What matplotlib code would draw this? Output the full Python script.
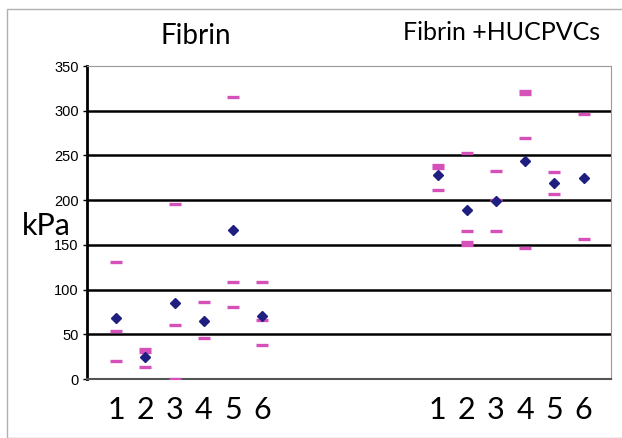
import matplotlib

matplotlib.use("Agg")
import matplotlib.pyplot as plt
from matplotlib.patches import Rectangle

# sample positions on the shared x axis (two groups of six)
fibrin_x = [1, 2, 3, 4, 5, 6]
hucpvc_x = [12, 13, 14, 15, 16, 17]
tick_labels = ["1", "2", "3", "4", "5", "6"]

# mean stiffness per sample (blue diamonds), kPa
fibrin_mean = [68, 25, 85, 65, 167, 70]
hucpvc_mean = [228, 189, 199, 244, 219, 225]

# individual measurements (pink dashes), kPa
fibrin_pts = [
    [131, 54, 20],
    [33, 30, 13],
    [196, 60, 0],
    [86, 46],
    [315, 109, 80],
    [109, 66, 38],
]
hucpvc_pts = [
    [239, 236, 211],
    [253, 165, 153, 150],
    [233, 200, 166],
    [322, 319, 270, 146],
    [232, 207],
    [296, 156],
]

navy = "#1f1f82"
pink = "#d550b8"

fig = plt.figure(figsize=(6.22, 4.38), dpi=100)
ax = fig.add_axes([0.14, 0.1347, 0.842, 0.7146])

# background frame around the whole figure
fig.patches.append(Rectangle((7 / 622, 0), 1.0, 1 - 9 / 438, transform=fig.transFigure,
                             fill=False, edgecolor="#b0b0b0", lw=1.0))

for y in range(50, 301, 50):
    ax.axhline(y, color="black", lw=1.8, zorder=1)

for xs, groups in ((fibrin_x, fibrin_pts), (hucpvc_x, hucpvc_pts)):
    for x, vals in zip(xs, groups):
        ax.plot([x] * len(vals), vals, ls="none", marker="_", ms=8, mew=2.4,
                color=pink, zorder=3)

ax.plot(fibrin_x, fibrin_mean, ls="none", marker="D", ms=5, color=navy, zorder=4)
ax.plot(hucpvc_x, hucpvc_mean, ls="none", marker="D", ms=5, color=navy, zorder=4)

ax.set_xlim(0, 17.93)
ax.set_ylim(0, 350)
ax.set_yticks(range(0, 351, 50))
ax.set_xticks(fibrin_x + hucpvc_x)
ax.set_xticklabels(tick_labels + tick_labels, fontsize=22, family="Lato")
ax.tick_params(axis="x", length=0, pad=12)
ax.tick_params(axis="y", labelsize=10.5, length=3, width=1, pad=3)
for lab in ax.get_yticklabels():
    lab.set_family("Liberation Sans")

ax.spines["left"].set_linewidth(2)
ax.spines["left"].set_color("black")
ax.spines["bottom"].set_color("#555555")
ax.spines["bottom"].set_linewidth(1.5)
ax.spines["top"].set_color("#999999")
ax.spines["right"].set_color("#999999")

fig.text(22 / 622, 1 - 235 / 438, "kPa", fontsize=22, family="Lato",
         va="baseline", ha="left")
fig.text(196 / 622, 1 - 36 / 438, "Fibrin", fontsize=20, family="Lato", ha="center", va="center")
fig.text(502 / 622, 1 - 33 / 438, "Fibrin +HUCPVCs", fontsize=18, family="Lato",
         ha="center", va="center")

fig.savefig("out.png", dpi=100)
